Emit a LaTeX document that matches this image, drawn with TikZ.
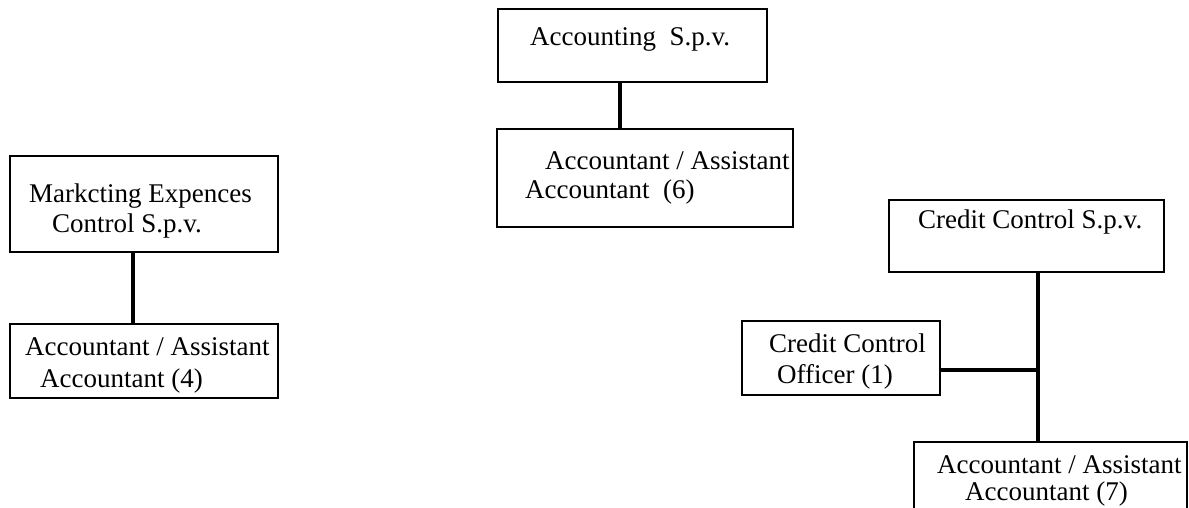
\documentclass[tikz,border=0pt]{standalone}
\usepackage{fontspec}
\setmainfont{Liberation Serif}
\begin{document}
\begin{tikzpicture}[x=1pt,y=-1pt,
  box/.style={draw,line width=2.2pt,inner sep=0pt,outer sep=0pt},
  conn/.style={line width=4.5pt},
  lbl/.style={anchor=base west,inner sep=0pt,font=\fontsize{27}{31}\selectfont}]
\useasboundingbox (0,0) rectangle (1189,508);
\clip (0,0) rectangle (1189,508);

% boxes
\node[box,minimum width=269pt,minimum height=73pt] (acc)  at (632.5,45.5) {};
\node[box,minimum width=296pt,minimum height=98pt] (acc6) at (645,178) {};
\node[box,minimum width=268pt,minimum height=96pt] (mkt)  at (144,204) {};
\node[box,minimum width=268pt,minimum height=74pt] (acc4) at (144,361) {};
\node[box,minimum width=275pt,minimum height=72pt] (ccs)  at (1026.5,236) {};
\node[box,minimum width=198pt,minimum height=74pt] (cco)  at (841,358) {};
\node[box,minimum width=273pt,minimum height=98pt] (acc7) at (1050.5,491) {};

% texts
\node[lbl] (t1)  at (530,46)  {Accounting\ \ S.p.v.};
\node[lbl] (t2)  at (545,170) {Accountant / Assistant};
\node[lbl] (t3)  at (525,198) {Accountant\ \ (6)};
\node[lbl] (t4)  at (29,202)  {Markcting Expences};
\node[lbl] (t5)  at (52,232)  {Control S.p.v.};
\node[lbl] (t6)  at (25,355)  {Accountant / Assistant};
\node[lbl] (t7)  at (40,387)  {Accountant (4)};
\node[lbl] (t8)  at (918,228) {Credit Control S.p.v.};
\node[lbl] (t9)  at (769,352) {Credit Control};
\node[lbl] (t10) at (777,383) {Officer (1)};
\node[lbl] (t11) at (937,473) {Accountant / Assistant};
\node[lbl] (t12) at (965,500) {Accountant (7)};

% connectors
\draw[conn] ([xshift=-12.5pt]acc.south) -- ([xshift=-25pt]acc6.north);
\draw[conn] ([xshift=-11pt]mkt.south) -- ([xshift=-11pt]acc4.north);
\draw[conn] ([xshift=11.5pt]ccs.south) -- ([xshift=-12.5pt]acc7.north);
\coordinate (j) at (1038,370);
\draw[line width=4pt] ([yshift=-12pt]cco.east) -- (j);
\end{tikzpicture}
\end{document}
